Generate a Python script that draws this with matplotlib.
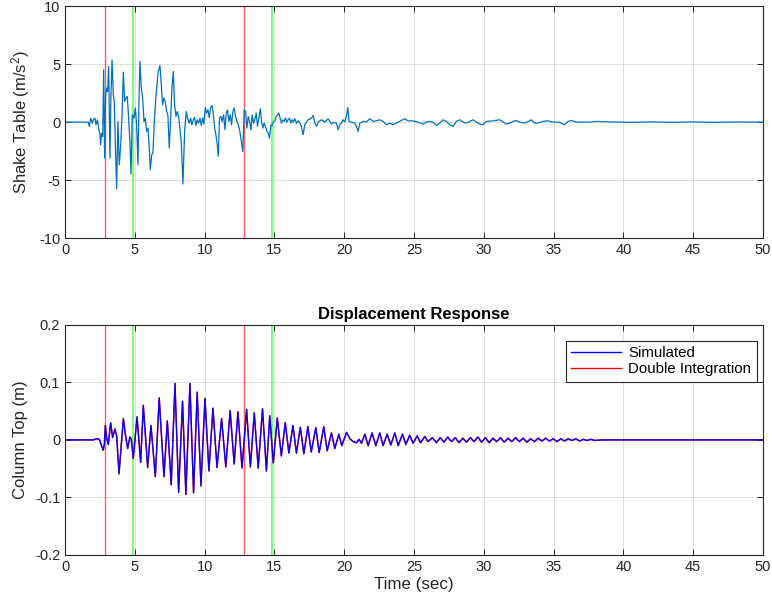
import numpy as np
import matplotlib.pyplot as plt

plt.rcParams['font.family'] = ['Liberation Sans', 'DejaVu Sans']
plt.rcParams['mathtext.default'] = 'regular'
plt.rcParams['axes.unicode_minus'] = False

# Shake table acceleration record (m/s^2)
accel_t = [0.00, 1.67, 1.74, 1.84, 1.96, 2.03, 2.15, 2.22, 2.32, 2.43, 2.51, 2.55, 2.63, 2.70,
           2.77, 2.84, 2.91, 2.98, 3.05, 3.13, 3.22, 3.29, 3.37, 3.46, 3.53, 3.60, 3.70, 3.79,
           3.89, 3.99, 4.08, 4.18, 4.27, 4.37, 4.46, 4.53, 4.65, 4.73, 4.82, 4.94, 5.04, 5.13,
           5.23, 5.30, 5.37, 5.47, 5.56, 5.66, 5.75, 5.85, 5.94, 6.04, 6.11, 6.21, 6.30, 6.40,
           6.49, 6.59, 6.68, 6.80, 6.90, 6.99, 7.09, 7.18, 7.28, 7.37, 7.47, 7.57, 7.66, 7.76,
           7.85, 7.95, 8.04, 8.14, 8.23, 8.33, 8.45, 8.57, 8.69, 8.78, 8.90, 9.00, 9.09, 9.19,
           9.28, 9.38, 9.47, 9.57, 9.67, 9.76, 9.86, 9.95, 10.05, 10.14, 10.24, 10.33, 10.43,
           10.53, 10.62, 10.72, 10.81, 10.91, 10.98, 11.07, 11.17, 11.26, 11.36, 11.46, 11.55,
           11.65, 11.74, 11.84, 11.93, 12.03, 12.12, 12.22, 12.32, 12.41, 12.51, 12.60, 12.70,
           12.74, 12.84, 12.94, 13.03, 13.13, 13.22, 13.32, 13.41, 13.51, 13.60, 13.70, 13.79,
           13.89, 13.99, 14.08, 14.18, 14.27, 14.37, 14.46, 14.56, 14.65, 14.75, 14.84, 14.94,
           15.04, 15.13, 15.23, 15.32, 15.42, 15.51, 15.61, 15.70, 15.80, 15.89, 15.99, 16.09,
           16.18, 16.28, 16.37, 16.47, 16.59, 16.71, 16.83, 16.94, 17.06, 17.18, 17.42, 17.66,
           17.78, 17.90, 18.02, 18.13, 18.37, 18.61, 18.85, 19.09, 19.21, 19.45, 19.57, 19.69,
           19.81, 19.92, 20.04, 20.16, 20.26, 20.35, 20.52, 20.76, 20.88, 21.00, 21.12, 21.36,
           21.60, 21.83, 22.07, 22.31, 22.55, 22.79, 23.03, 23.27, 23.50, 23.74, 23.98, 24.34,
           24.58, 24.94, 25.29, 25.65, 25.89, 26.13, 26.37, 26.61, 26.85, 27.08, 27.32, 27.56,
           27.80, 28.04, 28.28, 28.52, 28.76, 29.00, 29.23, 29.47, 29.71, 29.95, 30.19, 30.67,
           31.14, 31.62, 31.86, 32.10, 32.33, 32.57, 32.93, 33.29, 33.41, 33.65, 33.88, 34.24,
           34.60, 34.96, 35.32, 35.56, 35.79, 36.03, 36.27, 36.63, 37.11, 37.58, 38.06, 39.0,
           40.5, 42.0, 43.5, 45.0, 46.5, 48.0, 50.0]
accel = [0.00, 0.00, -0.37, 0.34, -0.09, 0.20, 0.34, -0.23, 0.20, -0.66, -1.09, -1.95, -0.95, -1.24,
         4.51, -3.10, 2.36, 2.93, 2.64, 4.80, -3.10, 2.07, 5.37, 2.36, 1.78, -1.67, -5.75, 0.06,
         -3.68, -1.95, 0.34, 4.31, 1.78, 2.07, 2.21, 0.92, -1.67, -4.48, 0.63, 0.34, 1.21, -0.23,
         -3.68, 1.78, 5.23, 2.93, 2.07, 0.06, 0.34, -0.80, -0.52, -2.24, -4.11, -2.82, -2.67, 0.06,
         1.78, 3.22, 4.37, 4.89, 3.22, 1.49, 2.07, 1.78, 0.92, 0.63, -2.24, 0.34, 2.93, 4.37,
         1.49, 0.49, 0.92, 0.49, -0.52, -1.67, -5.34, -0.80, 0.92, 0.34, -0.09, 0.34, -0.23, 0.20,
         0.40, -0.29, 0.20, -0.09, 0.34, -0.29, 0.34, -0.17, 1.26, 0.78, 1.06, 0.40, 1.21,
         1.44, 0.78, -0.52, -1.09, -1.95, -2.96, 0.34, 0.49, 0.06, 0.63, -0.66, 0.78,
         1.06, 0.06, 0.63, -0.23, 0.92, 1.21, 0.49, 0.06, -0.23, -0.66, -1.38, -2.24,
         -2.53, 1.06, 0.92, -0.52, 0.49, 0.06, -0.66, 0.63, -0.09, 0.20, 0.78, -0.37,
         0.34, 1.15, 0.06, -0.52, -0.09, -0.37, -0.80, -0.95, -1.38, -0.23, -0.29, 0.06,
         0.11, 0.49, 0.63, 0.78, 0.34, -0.09, 0.20, 0.06, 0.34, 0.00, 0.20, 0.34,
         -0.09, 0.20, 0.00, 0.29, -0.09, 0.11, -0.09, -0.37, -1.09, -0.23, 0.20, 0.34,
         0.57, -0.09, -0.37, 0.00, 0.20, 0.00, 0.29, -0.17, -0.03, -0.09, -0.66, -0.23,
         -0.09, 0.20, 0.00, 0.49, 1.26, 0.06, 0.00, -0.09, -0.37, -0.80, -0.09, 0.06,
         0.00, 0.29, 0.06, 0.11, 0.20, 0.06, -0.23, -0.09, -0.23, -0.09, 0.06, 0.29,
         0.11, 0.11, 0.00, -0.17, 0.00, 0.06, 0.00, -0.29, -0.09, 0.20, 0.06, -0.23,
         -0.37, 0.06, 0.20, 0.00, -0.09, 0.06, 0.20, 0.00, -0.17, -0.23, 0.06, 0.11,
         0.20, -0.17, -0.09, 0.06, 0.14, 0.00, -0.09, 0.11, 0.20, -0.09, -0.09, 0.06,
         0.11, 0.00, 0.00, -0.09, -0.23, 0.06, 0.14, 0.00, 0.00, 0.00, 0.06, 0.02,
         -0.02, 0.02, -0.02, 0.02, -0.02, 0.01, 0.00]

# Column top displacement (m): simulated model and double-integrated accelerometer
disp_t = [0.00, 1.79, 2.03, 2.27, 2.46, 2.63, 2.74, 2.82, 2.89, 2.98, 3.10, 3.27, 3.41, 3.58,
          3.70, 3.87, 4.01, 4.18, 4.34, 4.49, 4.65, 4.75, 4.89, 5.16, 5.42, 5.61, 5.92, 6.16,
          6.47, 6.75, 7.09, 7.33, 7.61, 7.88, 8.14, 8.42, 8.66, 8.95, 9.21, 9.47, 9.74, 10.03,
          10.31, 10.60, 10.89, 11.22, 11.52, 11.83, 12.12, 12.39, 12.68, 13.01, 13.28, 13.56,
          13.84, 14.15, 14.43, 14.67, 14.92, 15.21, 15.50, 15.78, 16.04, 16.33, 16.58, 16.86,
          17.11, 17.40, 17.64, 17.97, 18.21, 18.54, 18.78, 19.09, 19.33, 19.62, 19.83, 20.17,
          20.41, 20.65, 20.88, 21.07, 21.24, 21.48, 21.72, 22.00, 22.27, 22.55, 22.79, 23.08,
          23.34, 23.63, 23.87, 24.18, 24.42, 24.70, 24.94, 25.23, 25.47, 25.78, 26.01, 26.32,
          26.61, 26.88, 27.15, 27.42, 27.69, 27.96, 28.23, 28.50, 28.77, 29.04, 29.31, 29.58,
          29.85, 30.12, 30.39, 30.66, 30.93, 31.20, 31.47, 31.74, 32.01, 32.28, 32.55, 32.82,
          33.09, 33.36, 33.63, 33.90, 34.17, 34.44, 34.71, 34.98, 35.25, 35.52, 35.79, 36.06,
          36.33, 36.60, 36.87, 37.14, 37.41, 37.68, 37.95, 38.50, 50.00]
disp_sim = [0.000, 0.000, 0.000, 0.002, 0.001, -0.011, -0.018, -0.008, 0.025, 0.004, -0.008, 0.030, 0.004, 0.019,
            0.007, -0.059, -0.016, 0.037, 0.007, -0.015, 0.005, 0.001, -0.032, 0.040, -0.039, 0.060, -0.048, 0.025,
            -0.064, 0.073, -0.064, 0.033, -0.078, 0.098, -0.091, 0.067, -0.095, 0.098, -0.092, 0.083, -0.080, 0.072,
            -0.054, 0.055, -0.048, 0.037, -0.047, 0.051, -0.042, 0.049, -0.049, 0.053, -0.047, 0.047,
            -0.049, 0.054, -0.054, 0.042, -0.040, 0.038, -0.028, 0.030, -0.023, 0.025, -0.023, 0.022,
            -0.024, 0.023, -0.021, 0.021, -0.022, 0.023, -0.019, 0.012, -0.015, 0.010, -0.010, 0.013,
            0.002, -0.003, -0.005, 0.001, -0.006, 0.010, -0.010, 0.012, -0.010, 0.012, -0.010, 0.010,
            -0.009, 0.012, -0.010, 0.010, -0.008, 0.008, -0.006, 0.007, -0.005, 0.006, -0.003, 0.004,
            -0.005, 0.004, -0.004, 0.005, -0.003, 0.004, -0.005, 0.003, -0.004, 0.004, -0.003, 0.005,
            -0.004, 0.004, -0.005, 0.003, -0.003, 0.004, -0.004, 0.003, -0.003, 0.004, -0.003, 0.003,
            -0.004, 0.002, -0.003, 0.003, -0.002, 0.003, -0.002, 0.002, -0.003, 0.002, -0.002, 0.002,
            -0.001, 0.002, -0.002, 0.001, -0.001, 0.001, -0.001, 0.000, 0.000]
disp_int = list(disp_sim)

# Event window markers (sec)
red_marks = [2.86, 12.79]
green_marks = [4.87, 14.80]

matlab_blue = '#0072BD'
axis_color = '#262626'


def style_axes(ax):
    ax.grid(True, color='#dfdfdf', linewidth=0.7)
    ax.set_axisbelow(True)
    ax.tick_params(direction='in', top=True, right=True, length=4, width=0.7,
                   labelsize=10.5, colors=axis_color)
    for s in ax.spines.values():
        s.set_color(axis_color)
        s.set_linewidth(0.8)
    ax.set_xlim(0, 50)
    ax.set_xticks(np.arange(0, 51, 5))


def add_marks(ax):
    for t in red_marks:
        ax.axvline(t, color='#ff4040', linewidth=1.0, alpha=0.85, zorder=1.5)
    for t in green_marks:
        ax.axvline(t, color='#40ff40', linewidth=1.2, alpha=0.85, zorder=1.5)


fig = plt.figure(figsize=(7.72, 6.09), dpi=100)
ax1 = fig.add_axes([0.0842, 0.609, 0.904, 0.381])
ax2 = fig.add_axes([0.0842, 0.0887, 0.904, 0.378])

# Top: shake table input
style_axes(ax1)
add_marks(ax1)
ax1.plot(accel_t, accel, color=matlab_blue, linewidth=0.9, zorder=2)
ax1.set_ylim(-10, 10)
ax1.set_yticks(np.arange(-10, 11, 5))
ax1.set_ylabel('Shake Table (m/s$^2$)', fontsize=12, color=axis_color, labelpad=5)

# Bottom: displacement response
style_axes(ax2)
add_marks(ax2)
ax2.plot(disp_t, disp_int, color='#ff0000', linewidth=1.0, zorder=2, label='Double Integration')
ax2.plot(disp_t, disp_sim, color='#0000ff', linewidth=1.0, alpha=0.95, zorder=3, label='Simulated')
ax2.set_ylim(-0.2, 0.2)
ax2.set_yticks([-0.2, -0.1, 0, 0.1, 0.2])
ax2.set_yticklabels(['-0.2', '-0.1', '0', '0.1', '0.2'])
ax2.set_ylabel('Column Top (m)', fontsize=12, color=axis_color, labelpad=5)
ax2.set_xlabel('Time (sec)', fontsize=12.2, color=axis_color, labelpad=2)
ax2.set_title('Displacement Response', fontsize=12, fontweight='bold', color='black', pad=4)

handles, labels = ax2.get_legend_handles_labels()
leg = ax2.legend(handles[::-1], labels[::-1], loc='upper right', fontsize=10.8,
                 fancybox=False, framealpha=1, edgecolor=axis_color,
                 borderpad=0.35, handlelength=3.3, handletextpad=0.5, labelspacing=0.15,
                 borderaxespad=0, bbox_to_anchor=(0.991, 0.93))
leg.get_frame().set_linewidth(0.8)
for h in leg.legend_handles:
    h.set_alpha(1)

fig.savefig('out.png', dpi=100)
